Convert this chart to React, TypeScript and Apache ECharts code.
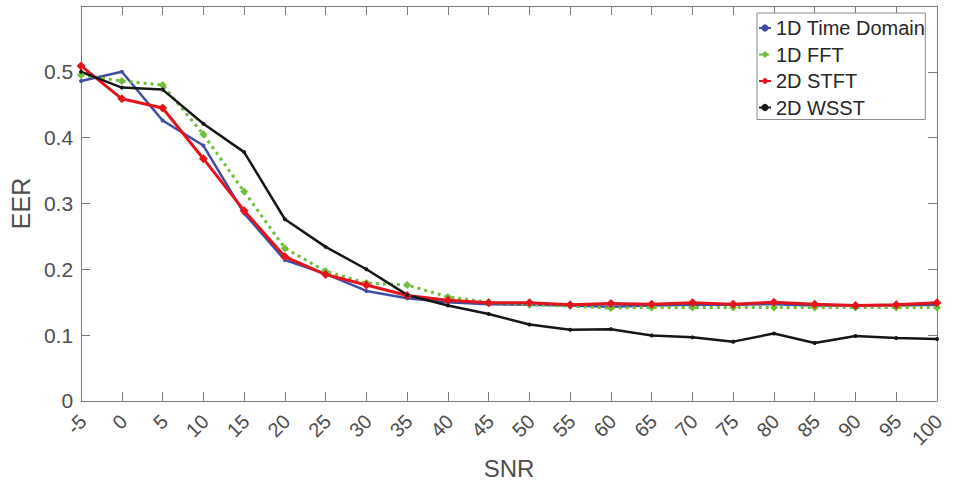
import React, { useEffect, useRef } from "react";
import * as echarts from "echarts";

const snr = [-5, 0, 5, 10, 15, 20, 25, 30, 35, 40, 45, 50, 55, 60, 65, 70, 75, 80, 85, 90, 95, 100];
const timeDomain = [0.486, 0.5, 0.426, 0.388, 0.285, 0.214, 0.193, 0.167, 0.156, 0.15, 0.147, 0.146, 0.145, 0.143, 0.145, 0.146, 0.146, 0.147, 0.145, 0.145, 0.145, 0.146];
const fft = [0.495, 0.486, 0.48, 0.405, 0.318, 0.232, 0.197, 0.179, 0.176, 0.158, 0.15, 0.146, 0.144, 0.141, 0.142, 0.142, 0.142, 0.142, 0.142, 0.142, 0.142, 0.142];
const stft = [0.509, 0.459, 0.445, 0.368, 0.289, 0.219, 0.192, 0.176, 0.16, 0.153, 0.149, 0.149, 0.146, 0.148, 0.147, 0.149, 0.147, 0.15, 0.147, 0.145, 0.146, 0.149];
const wsst = [0.5, 0.476, 0.473, 0.421, 0.378, 0.276, 0.234, 0.2, 0.161, 0.145, 0.132, 0.116, 0.108, 0.109, 0.0995, 0.0965, 0.09, 0.1025, 0.088, 0.0985, 0.0955, 0.094];
const seriesNames = ["1D Time Domain", "1D FFT", "2D STFT", "2D WSST"];

const FONT = "Liberation Sans, Arial, Helvetica, sans-serif";
const AXIS_COLOR = "#7a7a7a";
const LABEL_COLOR = "#4d4d4d";

export default function App() {
  const ref = useRef<HTMLDivElement>(null);
  useEffect(() => {
    if (!ref.current) return;
    const chart = echarts.init(ref.current, null, { renderer: "svg" });
    const pair = (ys: number[]) => snr.map((x, i) => [x, ys[i]]);
    const axisCommon = {
      axisLine: { show: true, onZero: false, lineStyle: { color: AXIS_COLOR, width: 1 } },
      axisTick: { show: true, inside: true, length: 9, lineStyle: { color: AXIS_COLOR } },
      splitLine: { show: false },
    };
    chart.setOption({
      animation: false,
      backgroundColor: "#ffffff",
      textStyle: { fontFamily: FONT },
      grid: { left: 72, right: 19, top: 6, bottom: 83 },
      legend: {
        orient: "vertical",
        left: 757,
        top: 13,
        padding: [5, 0, 2, 1],
        itemGap: 6.5,
        itemWidth: 12,
        itemHeight: 9,
        itemTextGap: 1,
        borderColor: "#8a8a8a",
        borderWidth: 1,
        backgroundColor: "#ffffff",
        textStyle: { fontFamily: FONT, fontSize: 20, color: "#262626", lineHeight: 20 },
        data: seriesNames,
      },
      xAxis: [
        {
          type: "value",
          min: -5,
          max: 100,
          interval: 5,
          position: "bottom",
          ...axisCommon,
          axisLabel: {
            rotate: 45,
            fontSize: 20,
            lineHeight: 21,
            color: LABEL_COLOR,
            fontFamily: FONT,
            margin: 4,
            align: "right",
            verticalAlign: "top",
            padding: [0, 8, 0, 0],
          },
          name: "SNR",
          nameLocation: "middle",
          nameGap: 54,
          nameTextStyle: { fontSize: 24, color: LABEL_COLOR, fontFamily: FONT },
        },
        {
          type: "value",
          min: -5,
          max: 100,
          interval: 5,
          position: "top",
          ...axisCommon,
          axisLabel: { show: false },
        },
      ],
      yAxis: [
        {
          type: "value",
          min: 0,
          max: 0.6,
          interval: 0.1,
          position: "left",
          ...axisCommon,
          axisLabel: {
            fontSize: 21,
            color: LABEL_COLOR,
            fontFamily: FONT,
            margin: 8,
            formatter: (v: number) => (v > 0.55 ? "" : String(Math.round(v * 10) / 10)),
          },
          name: "EER",
          nameLocation: "middle",
          nameGap: 42,
          nameTextStyle: { fontSize: 25, color: LABEL_COLOR, fontFamily: FONT },
        },
        {
          type: "value",
          min: 0,
          max: 0.6,
          interval: 0.1,
          position: "right",
          ...axisCommon,
          axisLabel: { show: false },
        },
      ],
      series: [
        {
          name: seriesNames[0],
          type: "line",
          data: pair(timeDomain),
          symbol: "circle",
          symbolSize: 4,
          lineStyle: { color: "#3f4ea3", width: 2.5 },
          itemStyle: { color: "#3f4ea3" },
        },
        {
          name: seriesNames[1],
          type: "line",
          data: pair(fft),
          symbol: "diamond",
          symbolSize: 8,
          lineStyle: { color: "#6dbf3a", width: 3, type: [3, 4] },
          itemStyle: { color: "#6dbf3a" },
        },
        {
          name: seriesNames[2],
          type: "line",
          data: pair(stft),
          symbol: "diamond",
          symbolSize: 9,
          lineStyle: { color: "#e5141c", width: 3 },
          itemStyle: { color: "#e5141c" },
        },
        {
          name: seriesNames[3],
          type: "line",
          data: pair(wsst),
          symbol: "circle",
          symbolSize: 4,
          lineStyle: { color: "#161616", width: 2.5 },
          itemStyle: { color: "#161616" },
        },
      ],
    });
    return () => chart.dispose();
  }, []);
  return <div ref={ref} style={{ width: 956, height: 485, position: "absolute", left: 0, top: 0 }} />;
}
